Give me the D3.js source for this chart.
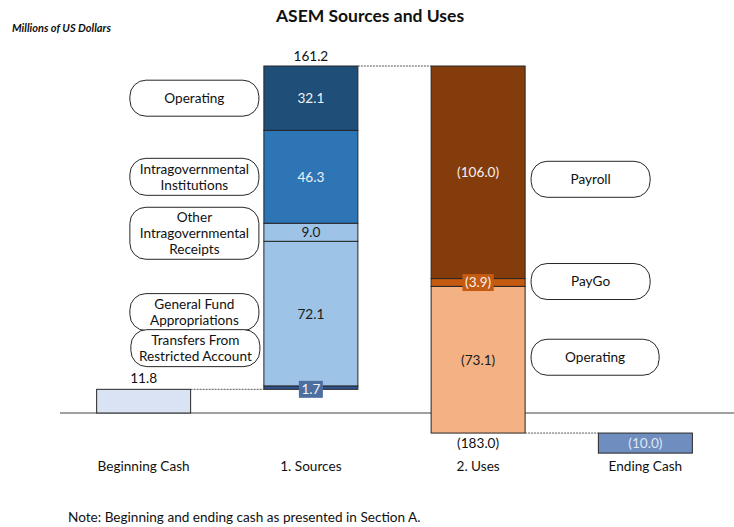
<!DOCTYPE html>
<html>
<head>
<meta charset="utf-8">
<script src="https://cdn.jsdelivr.net/npm/d3@7"></script>
<style>
  body { margin: 0; background: #fff; }
  svg { font-family: Lato, "Open Sans", sans-serif; }
</style>
</head>
<body>
<svg></svg>
<script>
// data (millions of US dollars)
var categories = ["Beginning Cash", "1. Sources", "2. Uses", "Ending Cash"];
var beginningCash = 11.8;
var sourceNames = ["Transfers From Restricted Account", "General Fund Appropriations",
                   "Other Intragovernmental Receipts", "Intragovernmental Institutions", "Operating"];
var sourceValues = [1.7, 72.1, 9.0, 46.3, 32.1];
var useNames = ["Payroll", "PayGo", "Operating"];
var useValues = [-106.0, -3.9, -73.1];
var endingCash = -10.0;

// styles
var sourceColors = ["#2F5597", "#9DC3E6", "#9DC3E6", "#2E75B6", "#1F4E79"];
var sourceText = ["#F2F2F2", "#1a1a1a", "#1a1a1a", "#F2F2F2", "#F2F2F2"];
var useColors = ["#843C0C", "#C55A11", "#F4B183"];
var useText = ["#F2F2F2", "#F2F2F2", "#1a1a1a"];
var boxedLabel = { "Transfers From Restricted Account": "#4D6FA0", "PayGo": "#C55A11" };
var FS = 13.6;

var W = 734, H = 527;
var svg = d3.select("svg").attr("width", W).attr("height", H);

var x = d3.scaleBand().domain(categories).range([60, 729])
    .paddingInner(0.438).paddingOuter(0.219);
var y = d3.scaleLinear().domain([0, 173]).range([413, 66]);

function fmt(v) {
    var s = d3.format(".1f")(Math.abs(v));
    return v < 0 ? "(" + s + ")" : s;
}

// build waterfall segments
var segs = [];
var run = 0;
segs.push({ cat: categories[0], name: "Beginning Cash", v0: 0, v1: beginningCash,
            fill: "#DAE3F3", text: null });
run = beginningCash;
sourceValues.forEach(function(v, i) {
    segs.push({ cat: categories[1], name: sourceNames[i], v0: run, v1: run + v,
                fill: sourceColors[i], text: sourceText[i], side: "left" });
    run += v;
});
var sourcesTop = run;
useValues.forEach(function(v, i) {
    segs.push({ cat: categories[2], name: useNames[i], v0: run, v1: run + v,
                fill: useColors[i], text: useText[i], side: "right" });
    run += v;
});
var usesBottom = run;
segs.push({ cat: categories[3], name: "Ending Cash", v0: run, v1: run + endingCash,
            fill: "#6F8EBF", text: "#DDE6F2" });

// title
svg.append("text").attr("x", 370).attr("y", 22).attr("text-anchor", "middle")
    .attr("font-size", 17.5).attr("font-weight", "bold").attr("fill", "#111")
    .text("ASEM Sources and Uses");
svg.append("text").attr("x", 12).attr("y", 32)
    .attr("font-size", 11).attr("font-weight", "bold").attr("font-style", "italic")
    .attr("fill", "#111").text("Millions of US Dollars");

// baseline
svg.append("line").attr("x1", 60).attr("x2", 734).attr("y1", y(0)).attr("y2", y(0))
    .attr("stroke", "#808080").attr("stroke-width", 1.5);

// bars
svg.selectAll("rect.seg").data(segs).enter().append("rect")
    .attr("class", "seg")
    .attr("x", function(d) { return x(d.cat); })
    .attr("width", x.bandwidth())
    .attr("y", function(d) { return y(Math.max(d.v0, d.v1)); })
    .attr("height", function(d) { return Math.abs(y(d.v0) - y(d.v1)); })
    .attr("fill", function(d) { return d.fill; })
    .attr("stroke", "#262626").attr("stroke-width", 1);

// connectors
var links = [
    [categories[0], categories[1], beginningCash],
    [categories[1], categories[2], sourcesTop],
    [categories[2], categories[3], usesBottom]
];
svg.selectAll("line.link").data(links).enter().append("line")
    .attr("x1", function(d) { return x(d[0]) + x.bandwidth(); })
    .attr("x2", function(d) { return x(d[1]); })
    .attr("y1", function(d) { return y(d[2]); })
    .attr("y2", function(d) { return y(d[2]); })
    .attr("stroke", "#595959").attr("stroke-width", 1).attr("stroke-dasharray", "2,1");

// segment value labels
var inner = segs.filter(function(d) { return d.text; });
inner.forEach(function(d) {
    var cx = x(d.cat) + x.bandwidth() / 2;
    var cy = (y(d.v0) + y(d.v1)) / 2;
    var label = fmt(d.v1 - d.v0);
    if (d.name === "Ending Cash") label = fmt(endingCash);
    var bg = null;
    if (boxedLabel[d.name]) {
        cy = d.name === "PayGo" ? cy : y(d.v0);
        bg = svg.append("rect").attr("fill", boxedLabel[d.name]);
    }
    var t = svg.append("text").attr("x", cx).attr("y", cy).attr("dy", "0.36em")
        .attr("text-anchor", "middle").attr("font-size", FS)
        .attr("fill", d.text).text(label);
    if (bg) {
        var bw = t.node().getComputedTextLength() + 5;
        bg.attr("x", cx - bw / 2).attr("y", cy - 8.5).attr("width", bw).attr("height", 17);
    }
});

// totals
var sourcesSum = d3.sum(sourceValues), usesSum = d3.sum(useValues);
svg.append("text").attr("x", x(categories[0]) + x.bandwidth() / 2).attr("y", y(beginningCash) - 6)
    .attr("text-anchor", "middle").attr("font-size", FS).attr("fill", "#111")
    .text(fmt(beginningCash));
svg.append("text").attr("x", x(categories[1]) + x.bandwidth() / 2).attr("y", y(sourcesTop) - 5)
    .attr("text-anchor", "middle").attr("font-size", FS).attr("fill", "#111")
    .text(fmt(sourcesSum));
svg.append("text").attr("x", x(categories[2]) + x.bandwidth() / 2).attr("y", y(usesBottom) + 15)
    .attr("text-anchor", "middle").attr("font-size", FS).attr("fill", "#111")
    .text(fmt(usesSum));

// callouts
var callouts = [
    { name: "Operating", side: "left", lines: ["Operating"], dy: 0, w: 129 },
    { name: "Intragovernmental Institutions", side: "left", lines: ["Intragovernmental", "Institutions"], dy: 0, w: 129 },
    { name: "Other Intragovernmental Receipts", side: "left", lines: ["Other", "Intragovernmental", "Receipts"], dy: 1, w: 129 },
    { name: "General Fund Appropriations", side: "left", lines: ["General Fund", "Appropriations"], dy: -1.5, w: 129 },
    { name: "Transfers From Restricted Account", side: "left", lines: ["Transfers From", "Restricted Account"], dy: -39.5, w: 129, shift: 1 },
    { name: "Payroll", side: "right", lines: ["Payroll"], dy: 7, w: 119 },
    { name: "PayGo", side: "right", lines: ["PayGo"], dy: -1, w: 119 },
    { name: "Operating", side: "right", lines: ["Operating"], dy: -2.5, w: 128 }
];
callouts.forEach(function(c) {
    var seg = segs.filter(function(s) { return s.name === c.name && s.side === c.side; })[0];
    var cy = (y(seg.v0) + y(seg.v1)) / 2 + c.dy;
    var h = c.lines.length === 3 ? 52 : (c.lines.length === 2 ? 37 : 36);
    var x0 = c.side === "left" ? x(categories[1]) - 5 - c.w + (c.shift || 0)
                               : x(categories[2]) + x.bandwidth() + 6;
    var g = svg.append("g");
    g.append("rect").attr("x", x0).attr("y", cy - h / 2).attr("width", c.w).attr("height", h)
        .attr("rx", 16).attr("ry", 16)
        .attr("fill", "#fff").attr("stroke", "#262626").attr("stroke-width", 1);
    c.lines.forEach(function(t, i) {
        g.append("text").attr("x", x0 + c.w / 2)
            .attr("y", cy + (i - (c.lines.length - 1) / 2) * 16).attr("dy", "0.36em")
            .attr("text-anchor", "middle").attr("font-size", FS).attr("fill", "#111")
            .text(t);
    });
});

// category labels
var axis = svg.append("g").attr("transform", "translate(0," + y(0) + ")")
    .call(d3.axisBottom(x).tickSize(0).tickPadding(48));
axis.select(".domain").remove();
axis.selectAll("text").attr("font-family", "Lato, 'Open Sans', sans-serif")
    .attr("font-size", FS).attr("fill", "#111");

// note
svg.append("text").attr("x", 68).attr("y", 522).attr("font-size", FS).attr("fill", "#111")
    .text("Note: Beginning and ending cash as presented in Section A.");
</script>
</body>
</html>
